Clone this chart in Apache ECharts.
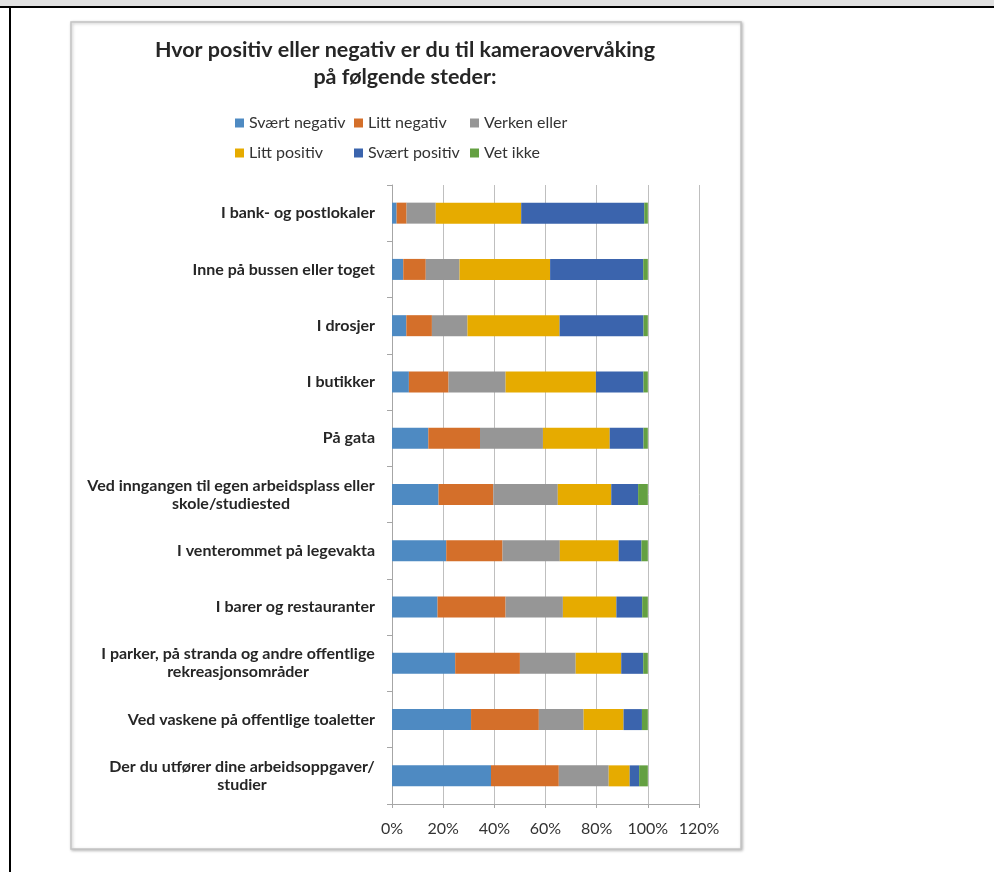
<!DOCTYPE html>
<html>
<head>
<meta charset="utf-8">
<script src="https://cdn.jsdelivr.net/npm/echarts@6/dist/echarts.min.js"></script>
<style>
html,body{margin:0;padding:0;background:#fff;}
#c{width:994px;height:872px;}
</style>
</head>
<body>
<div id="c"></div>
<script>
const categories = [
  "I bank- og postlokaler",
  "Inne på bussen eller toget",
  "I drosjer",
  "I butikker",
  "På gata",
  "Ved inngangen til egen arbeidsplass eller\nskole/studiested",
  "I venterommet på legevakta",
  "I barer og restauranter",
  "I parker, på stranda og andre offentlige\nrekreasjonsområder",
  "Ved vaskene på offentlige toaletter",
  "Der du utfører dine arbeidsoppgaver/\nstudier"
];
const seriesNames = ["Svært negativ","Litt negativ","Verken eller","Litt positiv","Svært positiv","Vet ikke"];
const svaertNegativ = [1.8, 4.4, 5.6, 6.6, 14.2, 18.2, 21.2, 17.8, 24.7, 30.9, 38.7];
const littNegativ   = [3.9, 8.8, 10.0, 15.5, 20.2, 21.4, 22.0, 26.6, 25.3, 26.5, 26.5];
const verkenEller   = [11.4, 13.2, 13.9, 22.3, 24.6, 25.2, 22.4, 22.4, 21.8, 17.5, 19.5];
const littPositiv   = [33.4, 35.4, 36.0, 35.3, 26.1, 20.9, 23.0, 20.9, 17.8, 15.6, 8.2];
const svaertPositiv = [48.1, 36.4, 32.8, 18.6, 13.2, 10.5, 8.9, 10.1, 8.6, 7.2, 3.7];
const vetIkke       = [1.4, 1.8, 1.7, 1.7, 1.7, 3.8, 2.5, 2.2, 1.8, 2.3, 3.4];
const xTicks = [0, 20, 40, 60, 80, 100, 120];

const colors = ["#4e8ac2","#d46f2a","#969696","#e6ab00","#3b64ad","#64a042"];
const values = [svaertNegativ, littNegativ, verkenEller, littPositiv, svaertPositiv, vetIkke];

const FONT = "Lato";
const LBL = 16;
const labelFont = "bold " + LBL + "px " + FONT;
const cv = document.createElement("canvas").getContext("2d");
cv.font = labelFont;
function maxLineWidth(s){ return Math.max(...s.split("\n").map(l => cv.measureText(l).width)); }

const chart = echarts.init(document.getElementById("c"), null, {renderer: "canvas"});
const legendStyle = {fontFamily: FONT, fontSize: 16, color: "#333333"};
function colLegend(left, names){
  return {left: left, top: 115, orient: "vertical", itemWidth: 9, itemHeight: 9, itemGap: 14,
          icon: "rect", data: names, textStyle: legendStyle, selectedMode: false, padding: 0};
}
chart.setOption({
  animation: false,
  backgroundColor: "#fff",
  graphic: [
    {type: "rect", shape: {x: 0, y: 0, width: 994, height: 6}, style: {fill: "#e0e0e0"}, z: -10},
    {type: "rect", shape: {x: 0, y: 6, width: 994, height: 2}, style: {fill: "#000"}, z: -10},
    {type: "rect", shape: {x: 9, y: 6, width: 2, height: 866}, style: {fill: "#000"}, z: -10},
    {type: "rect", shape: {x: 71, y: 22, width: 670, height: 827},
     style: {fill: "#fff", stroke: "#c4c4c4", lineWidth: 1.5, shadowColor: "rgba(0,0,0,0.25)", shadowBlur: 3, shadowOffsetX: 1, shadowOffsetY: 1}, z: -9},
    {type: "text", x: 405, y: 37, style: {text: "Hvor positiv eller negativ er du til kameraovervåking\npå følgende steder:",
      font: "bold 21.5px " + FONT, fill: "#262626", align: "center", textAlign: "center", lineHeight: 27}}
  ],
  legend: [
    colLegend(235, [seriesNames[0], seriesNames[3]]),
    colLegend(354, [seriesNames[1], seriesNames[4]]),
    colLegend(470, [seriesNames[2], seriesNames[5]])
  ],
  grid: {left: 392, right: 295, top: 185, bottom: 68, containLabel: false},
  xAxis: {
    type: "value", min: 0, max: 120, interval: 20,
    axisLine: {show: true, lineStyle: {color: "#a6a6a6", width: 1}},
    axisTick: {show: true, length: 4, lineStyle: {color: "#a6a6a6"}},
    splitLine: {show: true, lineStyle: {color: "#bfbfbf", width: 1}},
    axisLabel: {formatter: v => xTicks.includes(v) ? v + "%" : "", fontFamily: FONT, fontSize: 16, color: "#333333", margin: 17}
  },
  yAxis: {
    type: "category", inverse: true, data: categories,
    axisLine: {show: true, lineStyle: {color: "#a6a6a6", width: 1}},
    axisTick: {show: true, length: 5, lineStyle: {color: "#a6a6a6"}},
    axisLabel: {
      margin: 17, fontFamily: FONT, fontSize: LBL, fontWeight: "bold", color: "#262626", lineHeight: 18,
      formatter: function(v){
        if (v.indexOf("\n") < 0) return v;
        const w = Math.ceil(maxLineWidth(v));
        return v.split("\n").map(l => "{c" + w + "|" + l + "}").join("\n");
      },
      rich: (function(){
        const r = {};
        categories.filter(c => c.indexOf("\n") >= 0).forEach(c => {
          const w = Math.ceil(maxLineWidth(c));
          r["c" + w] = {width: w, align: "center", fontFamily: FONT, fontSize: LBL, fontWeight: "bold", color: "#262626", lineHeight: 18};
        });
        return r;
      })()
    }
  },
  series: seriesNames.map((n, i) => ({
    name: n, type: "bar", stack: "total", barWidth: 21, data: values[i],
    itemStyle: {color: colors[i]}
  })),
  color: colors
});
</script>
</body>
</html>
